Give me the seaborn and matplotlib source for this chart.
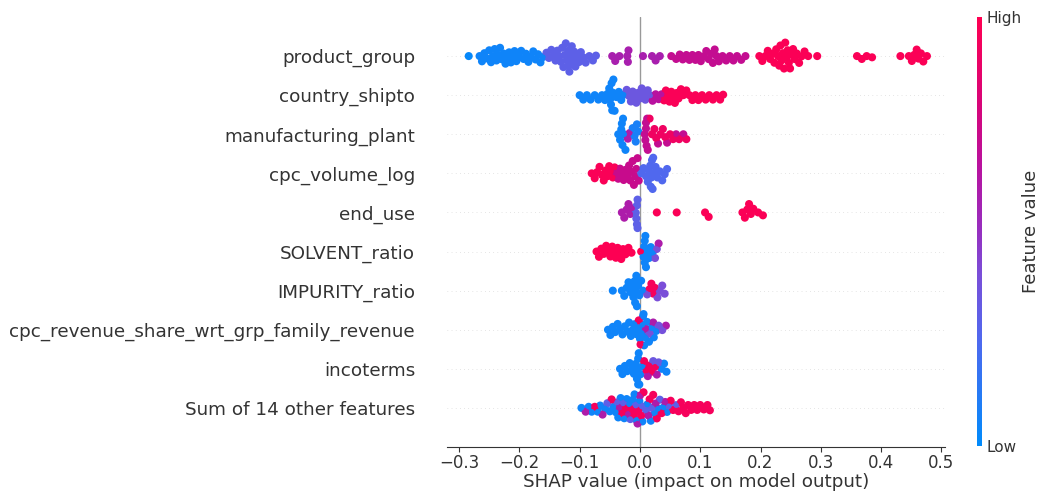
import numpy as np
import pandas as pd
import matplotlib
matplotlib.use("Agg")
import matplotlib.pyplot as plt
import matplotlib.patheffects as pe
import seaborn as sns
from matplotlib.colors import LinearSegmentedColormap, Normalize
from matplotlib.cm import ScalarMappable

# feature names, top to bottom
features = ["product_group", "country_shipto", "manufacturing_plant", "cpc_volume_log",
            "end_use", "SOLVENT_ratio", "IMPURITY_ratio",
            "cpc_revenue_share_wrt_grp_family_revenue", "incoterms",
            "Sum of 14 other features"]

# each feature: list of (feature value 0..1, [shap values]) groups
product_group = [
    (0.02, [-0.284]),
    (0.05, [-0.266, -0.262, -0.258, -0.254, -0.250, -0.247, -0.244, -0.241, -0.238, -0.235,
            -0.232, -0.229, -0.226, -0.223, -0.220, -0.217, -0.214, -0.211, -0.208, -0.205,
            -0.201, -0.197, -0.193, -0.189, -0.185, -0.181, -0.177, -0.173, -0.169, -0.165,
            -0.161]),
    (0.30, [-0.155, -0.151, -0.147, -0.143, -0.140, -0.137, -0.134, -0.131, -0.129, -0.127,
            -0.125, -0.123, -0.121, -0.119, -0.118, -0.117, -0.115, -0.113, -0.111, -0.109,
            -0.107, -0.104, -0.101, -0.098, -0.094, -0.090, -0.084, -0.078, -0.073]),
    (0.58, [-0.046, -0.041, -0.034, -0.021, -0.020, -0.019, 0.005, 0.020, 0.026, 0.033]),
    (0.70, [0.052, 0.060, 0.066, 0.071, 0.077, 0.082, 0.087, 0.092, 0.097, 0.101, 0.106,
            0.110, 0.114, 0.118, 0.121, 0.124, 0.127, 0.131, 0.137, 0.143, 0.149, 0.155,
            0.161, 0.168, 0.175]),
    (0.98, [0.198, 0.203, 0.208, 0.212, 0.216, 0.220, 0.223, 0.226, 0.229, 0.231, 0.233,
            0.235, 0.237, 0.239, 0.241, 0.243, 0.245, 0.247, 0.249, 0.251, 0.254, 0.257,
            0.260, 0.264, 0.268, 0.273, 0.279, 0.294,
            0.360, 0.368, 0.376, 0.385, 0.432, 0.446, 0.451, 0.455, 0.459, 0.462, 0.466,
            0.470, 0.476]),
]
country_shipto = [
    (0.05, [-0.100, -0.094, -0.088, -0.082, -0.075, -0.069, -0.063, -0.058, -0.054, -0.051,
            -0.049, -0.048, -0.047, -0.046, -0.045, -0.044, -0.042, -0.039, -0.035, -0.031,
            -0.027]),
    (0.35, [-0.022, -0.018, -0.015, -0.012, -0.009, -0.006, -0.003, 0.000, 0.003, 0.006,
            0.009, 0.013, 0.017]),
    (0.65, [0.021, 0.026, 0.031, 0.036]),
    (0.97, [0.040, 0.043, 0.046, 0.049, 0.052, 0.055, 0.058, 0.061, 0.064, 0.068, 0.072,
            0.077, 0.082, 0.087, 0.092, 0.097, 0.103, 0.109, 0.115, 0.121, 0.127, 0.133,
            0.138]),
]
manufacturing_plant = [
    (0.05, [-0.036, -0.033, -0.031, -0.030, -0.029, -0.028, -0.026, -0.024]),
    (0.60, [-0.020, -0.017]),
    (0.08, [-0.012, -0.009, -0.007, -0.005, -0.003]),
    (0.70, [0.008, 0.009, 0.010, 0.010, 0.011, 0.012, 0.013, 0.030, 0.045, 0.060, 0.072]),
    (0.92, [0.016, 0.020, 0.024, 0.027, 0.034, 0.038, 0.042, 0.050, 0.055, 0.065, 0.077]),
]
cpc_volume_log = [
    (0.97, [-0.080, -0.075, -0.071, -0.067, -0.063, -0.060, -0.057, -0.054, -0.051, -0.048,
            -0.045, -0.042]),
    (0.72, [-0.039, -0.036, -0.033, -0.030, -0.027, -0.024, -0.021, -0.018, -0.016, -0.014,
            -0.012, -0.010, -0.008, -0.006, -0.004, -0.002]),
    (0.25, [0.002, 0.006, 0.010, 0.013, 0.015, 0.017, 0.018, 0.019, 0.020, 0.021, 0.022,
            0.024, 0.026, 0.029, 0.033, 0.037, 0.041, 0.045]),
]
end_use = [
    (0.60, [-0.030, -0.026, -0.022, -0.019, -0.016, -0.013]),
    (0.30, [-0.007, -0.006, -0.005, -0.005, -0.004, -0.004]),
    (0.98, [0.028, 0.061, 0.108, 0.114, 0.170, 0.174, 0.178, 0.181, 0.184, 0.188, 0.196,
            0.204]),
]
solvent_ratio = [
    (0.99, [-0.072, -0.068, -0.064, -0.060, -0.056, -0.052, -0.049, -0.046, -0.043, -0.040,
            -0.037, -0.034, -0.031, -0.028, -0.024, -0.019, -0.014, 0.002]),
    (0.05, [0.006, 0.007, 0.008, 0.008, 0.009, 0.010, 0.012, 0.015, 0.018, 0.021]),
    (0.40, [0.025, 0.028]),
    (0.60, [0.031]),
]
impurity_ratio = [
    (0.05, [-0.045, -0.030, -0.026, -0.022, -0.019, -0.016, -0.013, -0.011, -0.009, -0.008,
            -0.007, -0.006, -0.005, -0.003, -0.001, 0.002, 0.005]),
    (0.95, [0.016, 0.019, 0.022, 0.025]),
    (0.40, [0.012, 0.029, 0.033, 0.037, 0.041]),
]
revenue_share = [
    (0.05, [-0.053, -0.049, -0.045, -0.041, -0.037, -0.033, -0.029, -0.025, -0.021, -0.018,
            -0.015, -0.012, -0.009, -0.006, -0.003, 0.000, 0.003, 0.004, 0.005, 0.006,
            0.007, 0.009, 0.012, 0.015, 0.019, 0.023, 0.027]),
    (0.95, [-0.002, 0.001]),
    (0.60, [0.010, 0.022, 0.043]),
    (0.38, [0.016, 0.031, 0.037]),
]
incoterms = [
    (0.05, [-0.033, -0.029, -0.025, -0.021, -0.017, -0.013, -0.010, -0.007, -0.005, -0.004,
            -0.003, -0.003, -0.002, -0.001, 0.001, 0.004, 0.036, 0.040, 0.044]),
    (0.95, [0.007, 0.011, 0.016, 0.020, 0.025]),
    (0.60, [0.013, 0.028]),
    (0.35, [0.022, 0.031]),
]
other_features = [
    (0.05, [-0.097, -0.085, -0.080, -0.070, -0.066, -0.058, -0.050, -0.044, -0.040, -0.036,
            -0.032, -0.026, -0.022, -0.018, -0.012, -0.009, -0.006, -0.001, 0.004, 0.012,
            0.018, 0.024, 0.030, 0.039, 0.045]),
    (0.30, [-0.054, -0.038, -0.028, -0.016, -0.007, 0.003, 0.010, 0.020, 0.033, 0.048,
            0.060]),
    (0.60, [-0.090, -0.062, -0.034, -0.020, -0.004, 0.000, 0.014, 0.026, 0.042]),
    (0.95, [-0.075, -0.047, -0.030, -0.024, -0.014, -0.010, -0.003, 0.002, 0.006, 0.016,
            0.022, 0.028, 0.036, 0.051, 0.055, 0.064, 0.068, 0.072, 0.076, 0.080, 0.085,
            0.090, 0.095, 0.100, 0.106, 0.112, 0.116]),
]

groups = [product_group, country_shipto, manufacturing_plant, cpc_volume_log, end_use,
          solvent_ratio, impurity_ratio, revenue_share, incoterms, other_features]

rows = []
for name, grp in zip(features, groups):
    for fv, vals in grp:
        for v in vals:
            rows.append((name, v, fv))
df = pd.DataFrame(rows, columns=["feature", "shap", "value"])

cmap = LinearSegmentedColormap.from_list(
    "shap_red_blue",
    [(0.0, "#008bfb"), (0.25, "#5068ee"), (0.4, "#7a4ed8"), (0.5, "#962fc0"),
     (0.65, "#b8129f"), (0.8, "#d80478"), (1.0, "#ff0052")])

sns.set_style("white")
fig = plt.figure(figsize=(10.41, 4.98), dpi=100)
ax = fig.add_axes([0.4294, 0.1024, 0.4784, 0.8635])

for i in range(len(features)):
    ax.axhline(i, color="#cccccc", lw=0.5, dashes=(1, 5), zorder=-1)
ax.axvline(0, color="#999999", lw=1, zorder=-1)

sns.swarmplot(data=df, x="shap", y="feature", hue="value", order=features,
              palette=cmap, hue_norm=(0, 1), orient="h", size=4.0, linewidth=0,
              legend=False, ax=ax)
# fatter dots so they overlap like the shap beeswarm
for coll in ax.collections:
    coll.set_edgecolor("face")
    coll.set_path_effects([pe.Stroke(linewidth=1.8), pe.Normal()])

ax.set_ylim(len(features), -1)
ax.set_xlim(-0.320, 0.506)
ax.set_xticks([-0.3, -0.2, -0.1, 0.0, 0.1, 0.2, 0.3, 0.4, 0.5])
ax.set_xlabel("SHAP value (impact on model output)", fontsize=13.2, color="#333333",
              labelpad=1)
ax.set_ylabel("")
for s in ["left", "top", "right"]:
    ax.spines[s].set_visible(False)
ax.spines["bottom"].set_color("#333333")
ax.tick_params(axis="x", labelsize=12, color="#333333", labelcolor="#333333",
               length=3.5, pad=1.5, bottom=True)
ax.tick_params(axis="y", labelsize=13.2, labelcolor="#333333", length=0, pad=23)

cax = fig.add_axes([0.9385, 0.104, 0.0048, 0.862])
cb = fig.colorbar(ScalarMappable(norm=Normalize(0, 1), cmap=cmap), cax=cax, ticks=[0, 1])
cb.set_ticklabels(["Low", "High"])
cb.ax.tick_params(labelsize=11, length=0, labelcolor="#333333")
cb.set_label("Feature value", size=13, labelpad=0, color="#333333")
cb.outline.set_visible(False)

fig.savefig("out.png", dpi=100)
